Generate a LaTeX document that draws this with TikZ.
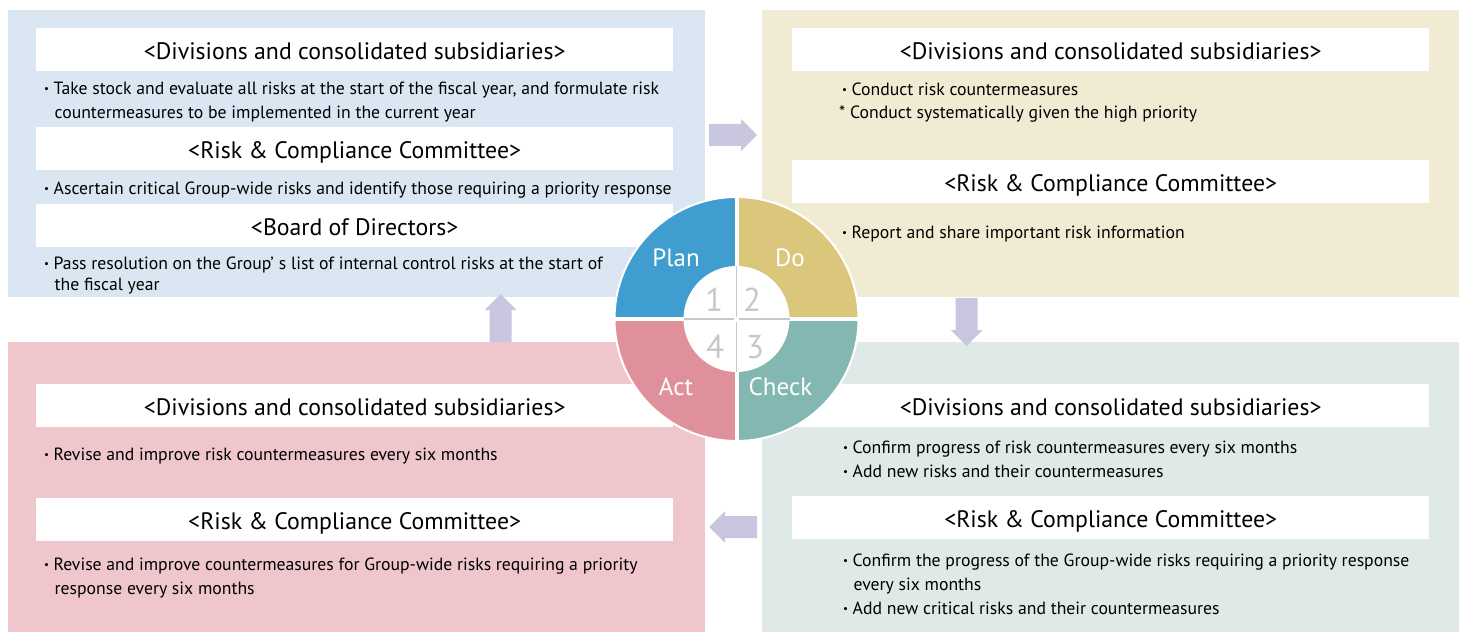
\documentclass[tikz,border=0pt]{standalone}
\usepackage{fontspec}
\setmainfont{PT Sans}
\usetikzlibrary{positioning}
\definecolor{planbg}{HTML}{DAE7F3}
\definecolor{dobg}{HTML}{F2EBD4}
\definecolor{checkbg}{HTML}{DFE9E8}
\definecolor{actbg}{HTML}{EFC6CC}
\definecolor{planc}{HTML}{3F9ECF}
\definecolor{doc}{HTML}{DAC77C}
\definecolor{checkc}{HTML}{83B8B2}
\definecolor{actc}{HTML}{E0909A}
\definecolor{flowc}{HTML}{C9C7DF}
\definecolor{numc}{HTML}{C8C8C8}
\newcommand{\bul}{\makebox[9.5pt][l]{\raisebox{2pt}{\fontsize{11}{11}\selectfont•}}}
\newcommand{\ind}{\hspace*{10.5pt}}
\tikzset{
  panel/.style={anchor=north west,inner sep=0,minimum width=697},
  head/.style={anchor=north west,fill=white,inner sep=0,minimum width=637,minimum height=43,
    text height=22,text depth=2,font=\fontsize{23.8}{27}\selectfont},
  body/.style={anchor=base west,inner sep=0,align=left,font=\fontsize{17.7}{24}\selectfont},
  phase/.style={text=white,inner sep=0,font=\fontsize{25}{25}\selectfont},
  stepnum/.style={text=numc,inner sep=0,font=\fontsize{33}{33}\selectfont},
  flow/.pic={\fill[flowc](0,-11)--(32,-11)--(32,-16)--(48,0)--(32,16)--(32,11)--(0,11)--cycle;}
}
\begin{document}
\begin{tikzpicture}[x=1pt,y=-1pt]
    \useasboundingbox(0,0)rectangle(1464,639);
    % panels
    \node[panel,fill=planbg,minimum height=287](planbox)at(8,10){};
    \node[panel,fill=dobg,minimum height=287](dobox)at(762,10){};
    \node[panel,fill=actbg,minimum height=290](actbox)at(8,342){};
    \node[panel,fill=checkbg,minimum height=290](checkbox)at(762,342){};
    % plan
    \node[head](plandiv)at(36,28){<Divisions and consolidated subsidiaries>};
    \node[body](plantxta)at(44,119){\bul Take stock and evaluate all risks at the start of the fiscal year, and formulate risk\\
        \ind countermeasures to be implemented in the current year};
    \node[head](planrcc)at(36,127){<Risk \& Compliance Committee>};
    \node[body](plantxtb)at(44,195){\bul Ascertain critical Group-wide risks and identify those requiring a priority response};
    \node[head](planbod)at(36,204){<Board of Directors>};
    \node[body,font=\fontsize{17.7}{20.5}\selectfont](plantxtc)at(44,290){\bul Pass resolution on the Group’\hspace{5pt}s list of internal control risks at the start of\\
        \ind the fiscal year};
    % do
    \node[head](dodiv)at(792,28){<Divisions and consolidated subsidiaries>};
    \node[body,font=\fontsize{17.7}{23}\selectfont](dotxta)at(839,119){\hspace*{3pt}\bul Conduct risk countermeasures\\
        \makebox[11pt][l]{*}Conduct systematically given the high priority};
    \node[head](dorcc)at(792,160){<Risk \& Compliance Committee>};
    \node[body](dotxtb)at(842,239){\bul Report and share important risk information};
    % act
    \node[head](actdiv)at(36,384){<Divisions and consolidated subsidiaries>};
    \node[body](acttxta)at(44,460){\bul Revise and improve risk countermeasures every six months};
    \node[head](actrcc)at(36,498){<Risk \& Compliance Committee>};
    \node[body](acttxtb)at(44,594){\bul Revise and improve countermeasures for Group-wide risks requiring a priority\\
        \ind response every six months};
    % check
    \node[head](checkdiv)at(792,384){<Divisions and consolidated subsidiaries>};
    \node[body](checktxta)at(843,477){\bul Confirm progress of risk countermeasures every six months\\
        \bul Add new risks and their countermeasures};
    \node[head](checkrcc)at(792,496){<Risk \& Compliance Committee>};
    \node[body](checktxtb)at(843,614){\bul Confirm the progress of the Group-wide risks requiring a priority response\\
        \ind every six months\\
        \bul Add new critical risks and their countermeasures};
    % flow arrows
    \coordinate(toDo)at(709,135);
    \coordinate(toCheck)at(966.5,298);
    \coordinate(toAct)at(757,527);
    \coordinate(toPlan)at(500.5,342);
    \pic at(toDo){flow};
    \pic[rotate=-90]at(toCheck){flow};
    \pic[rotate=180]at(toAct){flow};
    \pic[rotate=90]at(toPlan){flow};
    % cycle
    \coordinate(cen)at(736.5,319);
    \begin{scope}[shift={(cen)},x=1pt,y=1pt]
        \fill[planc](0,0)--(180:122)arc[start angle=180,end angle=90,radius=122]--cycle;
        \fill[doc](0,0)--(90:122)arc[start angle=90,end angle=0,radius=122]--cycle;
        \fill[checkc](0,0)--(0:122)arc[start angle=0,end angle=-90,radius=122]--cycle;
        \fill[actc](0,0)--(270:122)arc[start angle=270,end angle=180,radius=122]--cycle;
        \draw[white,line width=2](0,0)circle(122);
        \draw[white,line width=4](-124,0)--(124,0);
        \draw[white,line width=4](0,-124)--(0,124);
        \fill[white](0,0)circle(53);
        \draw[numc,line width=1.2](-53,0)--(-2.5,0);
        \draw[numc,line width=1.2](2.5,0)--(53,0);
        \draw[numc,line width=1.2](0,-53)--(0,-2.5);
        \draw[numc,line width=1.2](0,2.5)--(0,53);
    \end{scope}
    \node[phase](plan)at(676,258){Plan};
    \node[phase](do)at(790,258){Do};
    \node[phase](check)at(780.5,387){Check};
    \node[phase](act)at(676,387){Act};
    \node[stepnum](one)at(714,300){1};
    \node[stepnum](two)at(752,300){2};
    \node[stepnum](three)at(755,347){3};
    \node[stepnum](four)at(715,347){4};
\end{tikzpicture}
\end{document}
